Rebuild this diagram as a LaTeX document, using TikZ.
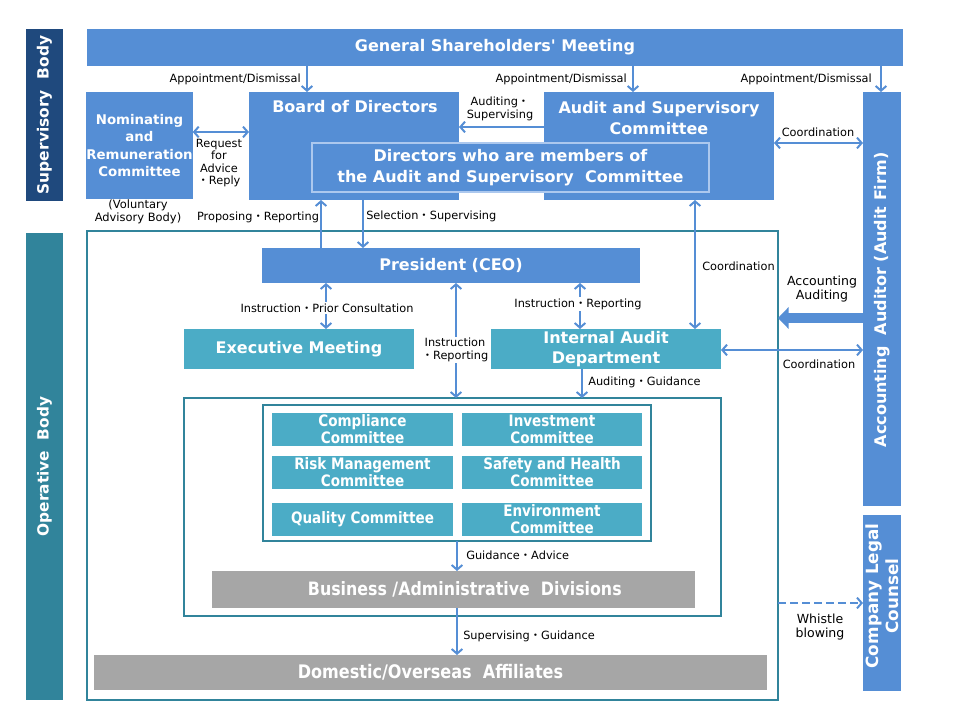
\documentclass[tikz,border=0pt]{standalone}
\usepackage{fontspec}
\setmainfont{DejaVu Sans}
\newfontfamily\plainf{DejaVu Sans}
\newfontfamily\condf[FakeStretch=0.86]{DejaVu Sans}
\newfontfamily\cjkf{Noto Sans CJK JP}
\newcommand\md{{\cjkf ・}}
\usetikzlibrary{arrows.meta}
\definecolor{bl}{RGB}{85,142,213}
\definecolor{tl}{RGB}{75,172,198}
\definecolor{tf}{RGB}{49,132,155}
\definecolor{nv}{RGB}{31,73,125}
\definecolor{gr}{RGB}{166,166,166}
\definecolor{glow}{RGB}{172,200,238}
\newcommand\mkbox[7]{\node[#6, minimum width={(#4-#2)*0.75pt}, minimum height={(#5-#3)*0.75pt}] (#1) at ({(#2+#4)/2},{(#3+#5)/2}) {#7};}
\tikzset{
  box/.style={inner sep=0pt, outer sep=0pt, align=center, text=white, font=\bfseries\fontsize{12}{14}\selectfont},
  blbox/.style={box, fill=bl},
  tlbox/.style={box, fill=tl},
  grbox/.style={box, fill=gr, font=\condf\bfseries\fontsize{13.8}{15}\selectfont},
  combox/.style={box, fill=tl, font=\condf\bfseries\fontsize{11.8}{12.8}\selectfont},
  frm/.style={inner sep=0pt, outer sep=0pt, draw=tf, line width=1.4pt},
  wtxt/.style={inner sep=0pt, align=center, text=white, font=\bfseries\fontsize{12}{15.5}\selectfont},
  lbl/.style={inner sep=0pt, align=center, font=\fontsize{8.5}{9.4}\selectfont},
  arr/.style={draw=bl, line width=1.5pt, -{Straight Barb[length=3.5pt,width=8pt]}},
  darr/.style={draw=bl, line width=1.5pt, {Straight Barb[length=3.5pt,width=8pt]}-{Straight Barb[length=3.5pt,width=8pt]}},
}
\begin{document}
\begin{tikzpicture}[x=0.75pt,y=-0.75pt]
\useasboundingbox[fill=white] (0,0) rectangle (960,720);
% side bars
\mkbox{sup}{26}{29}{63}{201}{box, fill=nv}{}
\node[wtxt, rotate=90, font=\bfseries\fontsize{11.6}{14}\selectfont] at (44.5,115) {Supervisory\ \ Body};
\mkbox{op}{26}{233}{63}{700}{box, fill=tf}{}
\node[wtxt, rotate=90, font=\bfseries\fontsize{11.5}{14}\selectfont] at (op.center) {Operative\ \ Body};
% top boxes
\mkbox{gsm}{87}{29}{903}{66}{blbox, font=\plainf\bfseries\fontsize{12}{14}\selectfont}{General Shareholders' Meeting}
\mkbox{nom}{87}{92}{192}{199}{blbox, font=\bfseries\fontsize{10}{12.8}\selectfont}{Nominating\\and\\Remuneration\\Committee}
\mkbox{board}{249}{92}{459}{200}{blbox}{}
\node[wtxt] at (355,107) {Board of Directors};
\mkbox{audit}{544}{92}{774}{200}{blbox}{}
\node[wtxt] at (659,118) {Audit and Supervisory\\Committee};
\mkbox{dirs}{312}{143}{709}{192}{blbox, draw=glow, line width=2.2pt, font=\bfseries\fontsize{12}{15.8}\selectfont}{Directors who are members of\\the Audit and Supervisory\ \ Committee}
\mkbox{acct}{863}{92}{901}{506}{blbox}{}
\node[wtxt, rotate=90, font=\bfseries\fontsize{12}{14}\selectfont] at (882,300) {Accounting\ \ Auditor\ (Audit Firm)};
\mkbox{legal}{863}{515}{901}{691}{blbox}{}
\node[wtxt, rotate=90, font=\bfseries\fontsize{12.6}{15}\selectfont] at (882,596) {Company Legal\\Counsel};
% operative
\mkbox{opframe}{87}{231}{778}{700}{frm}{}
\mkbox{pres}{262}{248}{640}{283}{blbox}{President (CEO)}
\mkbox{exec}{184}{329}{414}{369}{tlbox}{Executive Meeting}
\mkbox{iad}{491}{329}{721}{369}{tlbox, font=\bfseries\fontsize{12}{15}\selectfont}{Internal Audit\\Department}
\mkbox{inner}{184}{398}{721}{616}{frm}{}
\mkbox{comframe}{263}{405}{651}{541}{frm}{}
\mkbox{c1}{272}{413}{453}{446}{combox}{Compliance\\Committee}
\mkbox{c2}{462}{413}{642}{446}{combox}{Investment\\Committee}
\mkbox{c3}{272}{456}{453}{489}{combox}{Risk Management\\Committee}
\mkbox{c4}{462}{456}{642}{489}{combox}{Safety and Health\\Committee}
\mkbox{c5}{272}{503}{453}{536}{combox}{Quality Committee}
\mkbox{c6}{462}{503}{642}{536}{combox}{Environment\\Committee}
\mkbox{biz}{212}{571}{695}{608}{grbox}{\hspace*{17pt}Business /Administrative\ \ Divisions}
\mkbox{aff}{94}{655}{767}{690}{grbox, font=\condf\bfseries\fontsize{14}{15}\selectfont}{Domestic/Overseas\ \ Affiliates}
% arrows top
\draw[arr] (gsm.south -| 307,0) -- (board.north -| 307,0);
\draw[arr] (gsm.south -| 633,0) -- (audit.north -| 633,0);
\draw[arr] (gsm.south -| 881,0) -- (acct.north -| 881,0);
\node[lbl, anchor=east] at (301,79) {Appointment/Dismissal};
\node[lbl, anchor=east] at (627,79) {Appointment/Dismissal};
\node[lbl, anchor=east] at (872,79) {Appointment/Dismissal};
\draw[arr] (audit.west |- 0,127) -- (board.east |- 0,127);
\node[lbl] at (500,109) {Auditing\md\\Supervising};
\draw[darr] (nom.east |- 0,132) -- (board.west |- 0,132);
\node[lbl, font=\fontsize{8.5}{9.3}\selectfont] at (219,163) {Request\\for\\Advice\\\md Reply};
\node[lbl, font=\fontsize{8.6}{9.8}\selectfont] at (138,212) {(Voluntary\\Advisory Body)};
\draw[darr] (audit.east |- 0,143) -- (acct.west |- 0,143);
\node[lbl] at (818,132) {Coordination};
\draw[arr] (pres.north -| 321,0) -- (board.south -| 321,0);
\node[lbl] at (258,217) {Proposing\md Reporting};
\draw[arr] (board.south -| 363,0) -- (pres.north -| 363,0);
\node[lbl, anchor=west] at (366,216) {Selection\md Supervising};
% operative arrows
\draw[darr] (pres.south -| 326,0) -- (exec.north -| 326,0);
\node[lbl, fill=white, inner sep=1pt] at (327,308) {Instruction\md Prior Consultation};
\draw[darr] (pres.south -| 456,0) -- (inner.north -| 456,0);
\node[lbl, fill=white, inner sep=1pt] at (455,350) {Instruction\\\md Reporting};
\draw[darr] (pres.south -| 580,0) -- (iad.north -| 580,0);
\node[lbl, fill=white, inner sep=1pt] at (578,304) {Instruction\md Reporting};
\draw[darr] (audit.south -| 695,0) -- (iad.north -| 695,0);
\node[lbl, anchor=west] at (702,266) {Coordination};
\draw[arr] (iad.south -| 582,0) -- (inner.north -| 582,0);
\node[lbl, anchor=west] at (588,382) {Auditing\md Guidance};
\draw[darr] (iad.east |- 0,350) -- (acct.west |- 0,350);
\node[lbl] at (819,364) {Coordination};
\draw[draw=bl, line width=8pt, -{Triangle[length=8pt,width=16pt]}] (acct.west |- 0,318) -- (opframe.east |- 0,318);
\node[lbl, font=\fontsize{9.4}{11}\selectfont] at (822,289) {Accounting\\Auditing};
\draw[arr] (comframe.south -| 457,0) -- (biz.north -| 457,0);
\node[lbl, anchor=west] at (466,555) {Guidance\md Advice};
\draw[arr] (biz.south -| 457,0) -- (aff.north -| 457,0);
\node[lbl, anchor=west] at (463,636) {Supervising\md Guidance};
\draw[arr, dash pattern=on 6pt off 3pt] (opframe.east |- 0,603) -- (legal.west |- 0,603);
\node[lbl, font=\fontsize{9.4}{11}\selectfont] at (820,627) {Whistle\\blowing};
\end{tikzpicture}
\end{document}
